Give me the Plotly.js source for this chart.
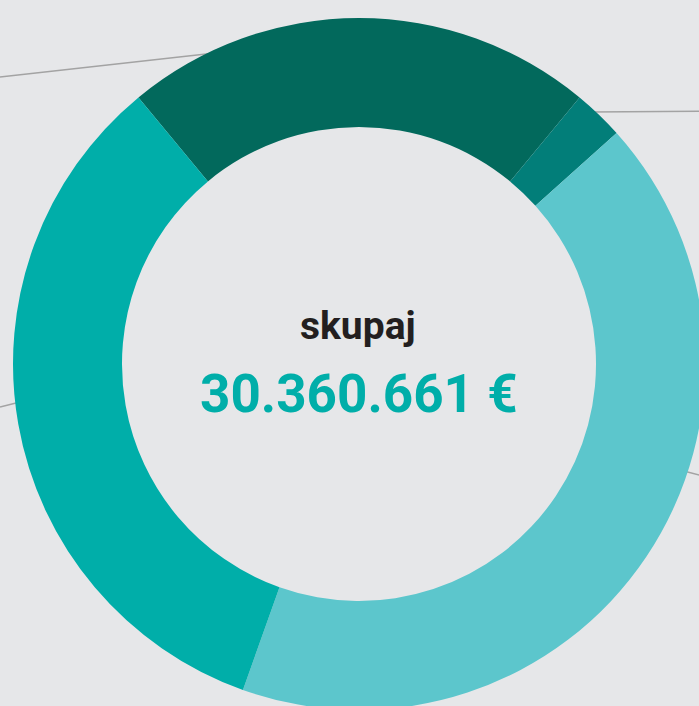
<!DOCTYPE html>
<html>
<head>
<meta charset="utf-8">
<script src="https://cdn.plot.ly/plotly-3.0.1.min.js"></script>
<style>
html, body { margin: 0; padding: 0; overflow: hidden; background: #E6E7E9; width: 699px; height: 706px; }
#chart { width: 718px; height: 728px; }
</style>
</head>
<body>
<div id="chart"></div>
<script>
// Data (total shown in the centre)
const labels = ["Del 1", "Del 2", "Del 3", "Del 4"];
const values = [6680000, 717000, 12776000, 10187661];
const colors = ["#02695C", "#027E79", "#5CC6CC", "#00AEA9"];
const totalLabel = "skupaj";
const totalText = "30.360.661 €";

// Layout geometry (pixels)
const W = 718, H = 728;
const cx = 359, cy = 364, R = 346;
const px = x => x / W;
const py = y => 1 - y / H;

// grey leader lines (pixel endpoints)
const leaderLines = [
  [[0, 77], [215, 53]],
  [[590, 112], [718, 111]],
  [[0, 407], [20, 402]],
  [[680, 470], [718, 480]]
];

const trace = {
  type: "pie",
  labels: labels,
  values: values,
  hole: 0.685,
  sort: false,
  direction: "clockwise",
  rotation: -39.6,
  textinfo: "none",
  hoverinfo: "label+value+percent",
  marker: { colors: colors, line: { width: 0 } },
  domain: { x: [px(cx - R), px(cx + R)], y: [py(cy + R), py(cy - R)] },
  showlegend: false
};

const layout = {
  width: W, height: H,
  margin: { l: 0, r: 0, t: 0, b: 0, pad: 0 },
  paper_bgcolor: "#E6E7E9",
  plot_bgcolor: "#E6E7E9",
  showlegend: false,
  shapes: leaderLines.map(l => ({
    type: "line", xref: "paper", yref: "paper", layer: "below",
    x0: px(l[0][0]), y0: py(l[0][1]), x1: px(l[1][0]), y1: py(l[1][1]),
    line: { color: "#A3A3A3", width: 1.5 }
  })),
  annotations: [
    {
      text: totalLabel, xref: "paper", yref: "paper",
      x: px(358), y: py(326), xanchor: "center", yanchor: "middle",
      showarrow: false,
      font: { family: "Roboto, sans-serif", size: 39, color: "#231F20", weight: 700 }
    },
    {
      text: totalText, xref: "paper", yref: "paper",
      x: px(358.5), y: py(394), xanchor: "center", yanchor: "middle",
      showarrow: false,
      font: { family: "Roboto, sans-serif", size: 53, color: "#00AEA9", weight: 700 }
    }
  ]
};

Plotly.newPlot("chart", [trace], layout, { displayModeBar: false, staticPlot: true });
</script>
</body>
</html>
